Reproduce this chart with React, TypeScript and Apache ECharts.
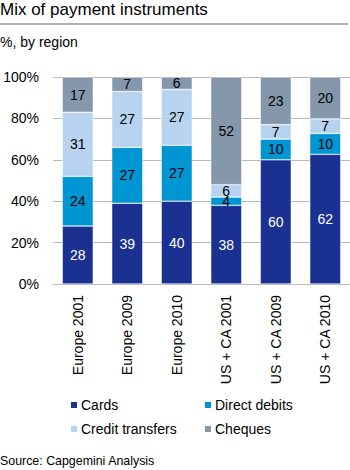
import React, { useEffect, useRef } from "react";
import * as echarts from "echarts";

const categories = ["Europe 2001", "Europe 2009", "Europe 2010", "US + CA 2001", "US + CA 2009", "US + CA 2010"];
const cards = [28, 39, 40, 38, 60, 62];
const directDebits = [24, 27, 27, 4, 10, 10];
const creditTransfers = [31, 27, 27, 6, 7, 7];
const cheques = [17, 7, 6, 52, 23, 20];
const yTicks = [0, 20, 40, 60, 80, 100];

const FONT = "Liberation Sans, Arial, sans-serif";

export default function App() {
  const ref = useRef<HTMLDivElement>(null);
  useEffect(() => {
    if (!ref.current) return;
    const chart = echarts.init(ref.current, undefined, { renderer: "svg" });
    const totals = categories.map((_, i) => cards[i] + directDebits[i] + creditTransfers[i] + cheques[i]);
    const mk = (name: string, data: number[], color: string, labelColor: string) => ({
      name,
      type: "bar",
      stack: "total",
      data: data.map((v, i) => (v / totals[i]) * 100),
      barWidth: 31,
      itemStyle: { color, borderColor: "#ffffff", borderWidth: 0.5 },
      label: {
        show: true,
        position: "inside",
        color: labelColor,
        fontSize: 14,
        fontFamily: FONT,
        formatter: (p: any) => String(data[p.dataIndex]),
      },
    });
    const legendBase = {
      orient: "vertical",
      top: 397,
      padding: 0,
      itemWidth: 8,
      itemHeight: 8,
      itemGap: 8,
      icon: "rect",
      textStyle: { fontSize: 14, color: "#000", lineHeight: 16, fontFamily: FONT, padding: [0, 0, 0, -2] },
    };
    chart.setOption({
      animation: false,
      textStyle: { fontFamily: FONT },
      grid: { left: 53, right: 0, top: 77, bottom: 186, containLabel: false },
      xAxis: {
        type: "category",
        data: categories,
        axisLine: { show: true, lineStyle: { color: "#b8b8b8", width: 1 } },
        axisTick: { show: false },
        axisLabel: { rotate: 90, fontSize: 14, color: "#000", margin: 11, fontFamily: FONT },
      },
      yAxis: {
        type: "value",
        min: yTicks[0],
        max: yTicks[yTicks.length - 1],
        interval: 20,
        axisLine: { show: false },
        axisTick: { show: false },
        splitLine: { lineStyle: { color: "#b8b8b8", width: 1 } },
        axisLabel: { formatter: "{value}%", fontSize: 14, color: "#000", margin: 14, fontFamily: FONT },
      },
      legend: [
        { ...legendBase, data: ["Cards", "Credit transfers"], left: 69 },
        { ...legendBase, data: ["Direct debits", "Cheques"], left: 203 },
      ],
      graphic: [
        {
          type: "text",
          left: 0,
          top: 1,
          style: { text: "Mix of payment instruments", fontSize: 17, fill: "#000", fontFamily: FONT },
        },
        {
          type: "line",
          shape: { x1: 0, y1: 24, x2: 348, y2: 24 },
          style: { stroke: "#9a9a9a", lineWidth: 1.5 },
        },
        {
          type: "text",
          left: 0,
          top: 35,
          style: { text: "%, by region", fontSize: 14, fill: "#000", fontFamily: FONT },
        },
        {
          type: "text",
          left: 0,
          top: 455,
          style: { text: "Source: Capgemini Analysis", fontSize: 12.4, fill: "#000", fontFamily: FONT },
        },
      ],
      series: [
        mk("Cards", cards, "#1b3192", "#ffffff"),
        mk("Direct debits", directDebits, "#0095d3", "#000000"),
        mk("Credit transfers", creditTransfers, "#b7d3f0", "#000000"),
        mk("Cheques", cheques, "#8497ab", "#000000"),
      ],
    });
    return () => chart.dispose();
  }, []);
  return (
    <div
      ref={ref}
      style={{ position: "absolute", left: 0, top: 0, width: 350, height: 470, background: "#fff" }}
    />
  );
}
